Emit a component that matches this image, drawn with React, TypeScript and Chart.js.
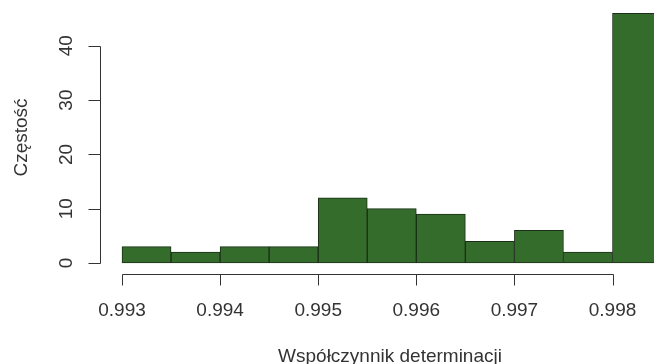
import React, { useEffect, useRef } from "react";
import { Chart, registerables } from "chart.js";

Chart.register(...registerables);

const binEdges = [0.993, 0.9935, 0.994, 0.9945, 0.995, 0.9955, 0.996, 0.9965, 0.997, 0.9975, 0.998, 0.9985];
const counts = [3, 2, 3, 3, 12, 10, 9, 4, 6, 2, 46];
const xTicks = [0.993, 0.994, 0.995, 0.996, 0.997, 0.998];
const xTickLabels = ["0.993", "0.994", "0.995", "0.996", "0.997", "0.998"];
const yTicks = [0, 10, 20, 30, 40];
const xTitle = "Współczynnik determinacji";
const yTitle = "Częstość";

const FONT = '"Liberation Sans", Arial, sans-serif';
const TEXT = "#333333";

const rAxes = {
  id: "rAxes",
  afterDraw(chart: any) {
    const ctx = chart.ctx;
    const xs = chart.scales.x;
    const ys = chart.scales.y;
    ctx.save();
    ctx.strokeStyle = "#333333";
    ctx.lineWidth = 1;
    ctx.fillStyle = TEXT;
    ctx.font = `19px ${FONT}`;
    ctx.textAlign = "center";
    ctx.textBaseline = "alphabetic";
    // x axis
    const axY = 274.5;
    const x0 = Math.round(xs.getPixelForValue(xTicks[0])) + 0.5;
    const x1 = Math.round(xs.getPixelForValue(xTicks[xTicks.length - 1])) + 0.5;
    ctx.beginPath();
    ctx.moveTo(x0, axY);
    ctx.lineTo(x1, axY);
    xTicks.forEach((v) => {
      const px = Math.round(xs.getPixelForValue(v)) + 0.5;
      ctx.moveTo(px, axY);
      ctx.lineTo(px, axY + 11);
    });
    ctx.stroke();
    xTicks.forEach((v, i) => {
      ctx.fillText(xTickLabels[i], xs.getPixelForValue(v), 316);
    });
    // y axis
    const axX = 100.5;
    const y0 = Math.round(ys.getPixelForValue(yTicks[0])) + 0.5;
    const y1 = Math.round(ys.getPixelForValue(yTicks[yTicks.length - 1])) + 0.5;
    ctx.beginPath();
    ctx.moveTo(axX, y0);
    ctx.lineTo(axX, y1);
    yTicks.forEach((v) => {
      const py = Math.round(ys.getPixelForValue(v)) + 0.5;
      ctx.moveTo(axX, py);
      ctx.lineTo(axX - 12, py);
    });
    ctx.stroke();
    yTicks.forEach((v) => {
      const py = ys.getPixelForValue(v);
      ctx.save();
      ctx.translate(72, py);
      ctx.rotate(-Math.PI / 2);
      ctx.fillText(String(v), 0, 0);
      ctx.restore();
    });
    // titles
    ctx.fillText(xTitle, 390, 362);
    ctx.save();
    ctx.translate(27, 137.5);
    ctx.rotate(-Math.PI / 2);
    ctx.fillText(yTitle, 0, 0);
    ctx.restore();
    ctx.restore();
  },
};

export default function App() {
  const ref = useRef<HTMLCanvasElement>(null);
  useEffect(() => {
    document.body.style.margin = "0";
    const data = counts.map((c, i) => ({ x: (binEdges[i] + binEdges[i + 1]) / 2, y: c }));
    const chart = new Chart(ref.current!, {
      type: "bar",
      data: {
        datasets: [
          {
            data: data as any,
            backgroundColor: "#346c2b",
            borderColor: "#1c2e19",
            borderWidth: 1,
            borderSkipped: false,
            barPercentage: 1,
            categoryPercentage: 1,
          },
        ],
      },
      options: {
        responsive: false,
        animation: false,
        layout: { padding: { left: 100, right: 0, top: 3, bottom: 90 } },
        plugins: { legend: { display: false }, tooltip: { enabled: false } },
        scales: {
          x: {
            type: "linear",
            display: false,
            offset: false,
            min: 0.993 - 22 / 98100,
            max: 0.993 + 532 / 98100,
          },
          y: {
            display: false,
            min: -2.03,
            max: 47.88,
          },
        },
      },
      plugins: [rAxes],
    });
    return () => chart.destroy();
  }, []);
  return (
    <div style={{ width: 654, height: 364, overflow: "hidden", background: "#fff" }}>
      <canvas ref={ref} width={654} height={364} style={{ display: "block" }} />
    </div>
  );
}
